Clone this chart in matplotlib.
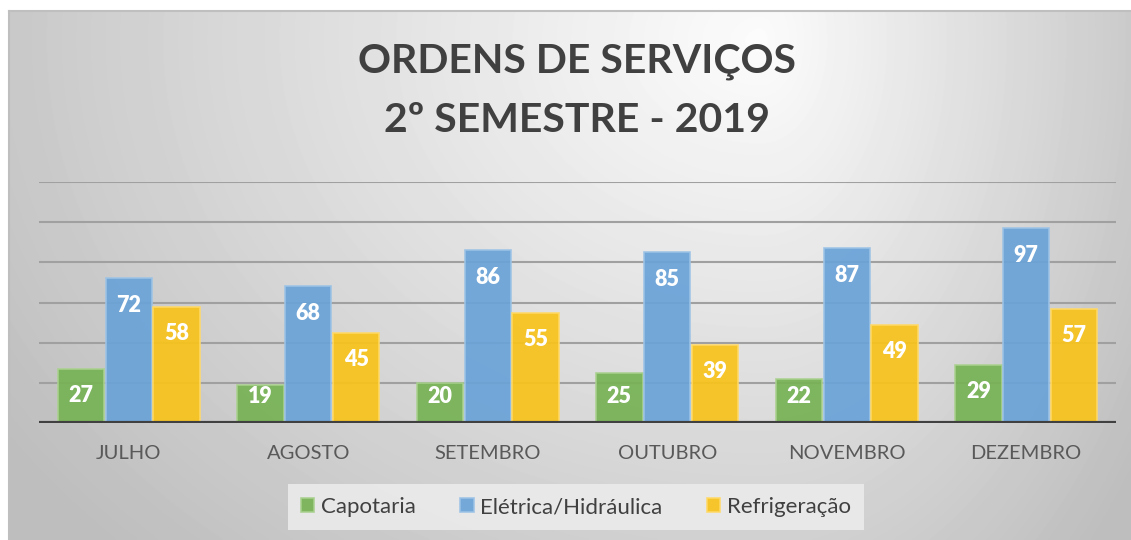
import matplotlib
matplotlib.use("Agg")
import matplotlib.pyplot as plt
import numpy as np

# data
meses = ["JULHO", "AGOSTO", "SETEMBRO", "OUTUBRO", "NOVEMBRO", "DEZEMBRO"]
capotaria = [27, 19, 20, 25, 22, 29]
eletrica = [72, 68, 86, 85, 87, 97]
refrigeracao = [58, 45, 55, 39, 49, 57]
series_names = ["Capotaria", "Elétrica/Hidráulica", "Refrigeração"]
colors = ["#77b255", "#6aa3d8", "#f7c31c"]
edge_colors = ["#a9d18e", "#9dc3e6", "#ffd966"]

W, H = 1131, 540
plt.rcParams["font.family"] = ["Lato", "DejaVu Sans"]

fig = plt.figure(figsize=(W / 100, H / 100), dpi=100)
fig.patch.set_facecolor("white")

# background gradient panel
bg = fig.add_axes([9 / W, 0, 1 - 9 / W, (H - 11) / H])
yy, xx = np.mgrid[11:H, 9:W].astype(float)
cx, cy = 760.0, 40.0
sx = np.where(xx < cx, 760.0, 390.0)
t = np.sqrt(((xx - cx) / sx) ** 2 + ((yy - cy) / 600.0) ** 2)
val = 252 - 52 * np.clip(t, 0, 1.2)
bg.imshow(val, cmap="gray", vmin=0, vmax=255, aspect="auto",
          extent=[0, 1, 0, 1], interpolation="bilinear")
bg.set_xticks([])
bg.set_yticks([])
for side in ["right", "bottom"]:
    bg.spines[side].set_visible(False)
for side in ["top", "left"]:
    bg.spines[side].set_color("#bfbfbf")
    bg.spines[side].set_linewidth(1.5)

# main chart
ax = fig.add_axes([39 / W, (H - 423) / H, (1116 - 39) / W, (423 - 182) / H])
ax.patch.set_alpha(0)
x = np.arange(len(meses))
bw = 0.267
data = [capotaria, eletrica, refrigeracao]
ax.set_ylim(0, 120)
ax.set_xlim(-0.5, len(meses) - 0.5)
for yv in range(20, 121, 20):
    ax.axhline(yv, color="#a0a0a0", lw=1.5, zorder=1)
for i, (vals, c, ec, name) in enumerate(zip(data, colors, edge_colors, series_names)):
    pos = x + (i - 1) * bw
    ax.bar(pos, vals, bw * 0.97, color=c, edgecolor=ec, linewidth=1.2,
           alpha=0.93, zorder=2, label=name)
    for p, v in zip(pos, vals):
        ax.text(p, max(v - 13.5, 13), str(v), ha="center", va="center",
                color="white", fontsize=15.5, fontweight="heavy", zorder=3)
ax.axhline(0, color="#404040", lw=3, zorder=4)
for s in ax.spines.values():
    s.set_visible(False)
ax.set_yticks([])
ax.set_xticks(x)
ax.set_xticklabels(meses, fontsize=14.5, color="#595959")
ax.tick_params(axis="x", length=0, pad=16)

fig.text(577 / W, (H - 62) / H, "ORDENS DE SERVIÇOS", ha="center", va="center",
         fontsize=29.5, fontweight="bold", color="#404040")
fig.text(577 / W, (H - 121) / H, "2º SEMESTRE - 2019", ha="center", va="center",
         fontsize=29.5, fontweight="bold", color="#404040")

leg = fig.legend(loc="center", bbox_to_anchor=(576 / W, (H - 507) / H), ncol=3,
                 frameon=True, fancybox=False, fontsize=16, handlelength=0.6,
                 handleheight=0.6, handletextpad=0.3, columnspacing=2.0,
                 borderpad=0.6, borderaxespad=0)
leg.get_frame().set_facecolor("#ebebeb")
leg.get_frame().set_edgecolor("none")
leg.get_frame().set_alpha(0.9)
for txt in leg.get_texts():
    txt.set_color("#404040")

fig.savefig("out.png", dpi=100)
